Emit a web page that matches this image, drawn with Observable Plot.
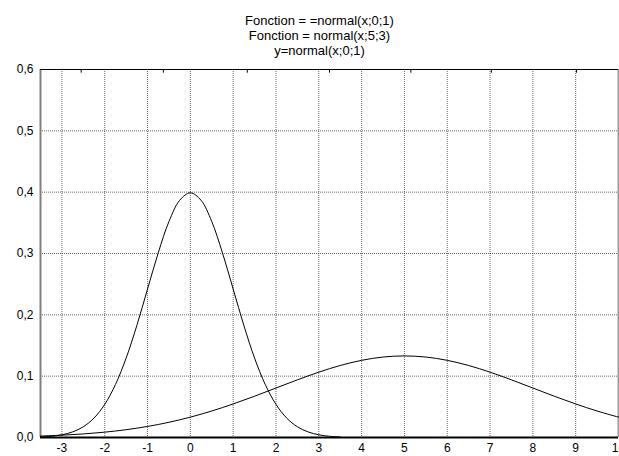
<!DOCTYPE html>
<html><head><meta charset="utf-8">
<script src="https://cdn.jsdelivr.net/npm/d3@7"></script>
<script src="https://cdn.jsdelivr.net/npm/@observablehq/plot@0.6"></script>
<style>
html,body{margin:0;padding:0;background:#fff;color:#000;overflow:hidden;}
body{font-family:"Liberation Sans",Arial,sans-serif;}
#titles{box-sizing:border-box;width:619px;padding-left:20px;padding-top:13px;text-align:center;font-size:13px;line-height:15px;height:58px;}
#chart svg{display:block;}
</style></head>
<body>
<div id="titles"></div>
<div id="chart"></div>
<script>
const titleLines = ["Fonction = =normal(x;0;1)", "Fonction = normal(x;5;3)", "y=normal(x;0;1)"];
const xTicks = [-3,-2,-1,0,1,2,3,4,5,6,7,8,9,10];
const xTickLabels = ["-3","-2","-1","0","1","2","3","4","5","6","7","8","9","10"];
const yTicks = [0,0.1,0.2,0.3,0.4,0.5,0.6];
const yTickLabels = ["0,0","0,1","0,2","0,3","0,4","0,5","0,6"];
const topMarks = [-2.55,-0.63,1.33,3.25,5.15,7.03,9.02];

// curve 1: y = normal(x;0;1)
const c1x = [-3.5,-3.25,-3,-2.75,-2.5,-2.25,-2,-1.75,-1.5,-1.25,-1,-0.75,-0.5,-0.25,0,0.25,0.5,0.75,1,1.25,1.5,1.75,2,2.25,2.5,2.75,3,3.25,3.5];
const c1y = [0.0009,0.0020,0.0044,0.0091,0.0175,0.0317,0.0540,0.0863,0.1295,0.1826,0.2420,0.3011,0.3521,0.3867,0.3989,0.3867,0.3521,0.3011,0.2420,0.1826,0.1295,0.0863,0.0540,0.0317,0.0175,0.0091,0.0044,0.0020,0.0009];
// curve 2: y = normal(x;5;3)
const c2x = [-3.5,-3,-2.5,-2,-1.5,-1,-0.5,0,0.5,1,1.5,2,2.5,3,3.5,4,4.5,5,5.5,6,6.5,7,7.5,8,8.5,9,9.5,10];
const c2y = [0.0024,0.0038,0.0058,0.0087,0.0127,0.0180,0.0248,0.0332,0.0432,0.0547,0.0673,0.0807,0.0940,0.1065,0.1174,0.1258,0.1312,0.1330,0.1312,0.1258,0.1174,0.1065,0.0940,0.0807,0.0673,0.0547,0.0432,0.0332];

document.getElementById("titles").innerHTML = titleLines.map(t => `<div>${t}</div>`).join("");

const s1 = c1x.map((x, i) => ({x, y: c1y[i]}));
const s2 = c2x.map((x, i) => ({x, y: c2y[i]}));
const gridX = xTicks.filter(v => v < 10);
const gridY = yTicks.filter(v => v > 0 && v < 0.6);

const chart = Plot.plot({
  width: 619,
  height: 410,
  marginLeft: 40,
  marginRight: 1,
  marginTop: 11,
  marginBottom: 31,
  style: {fontFamily: "Liberation Sans, Arial, sans-serif", fontSize: "12px", background: "#fff", color: "#000"},
  x: {domain: [-3.5, 10], ticks: xTicks, tickFormat: d => xTickLabels[xTicks.indexOf(d)], tickSize: 0, tickPadding: 6, label: null},
  y: {domain: [0, 0.6], ticks: yTicks, tickFormat: d => yTickLabels[yTicks.findIndex(v => Math.abs(v - d) < 1e-9)], tickSize: 0, tickPadding: 7, label: null},
  marks: [
    Plot.ruleX(gridX, {stroke: "#000", strokeOpacity: 0.6, strokeDasharray: "1,1"}),
    Plot.ruleY(gridY, {stroke: "#000", strokeOpacity: 0.6, strokeDasharray: "1,1"}),
    Plot.ruleX(topMarks, {y1: 0.6, y2: 0.594, stroke: "#000", strokeWidth: 1}),
    Plot.ruleX([-3.5], {stroke: "#808080", strokeWidth: 2}),
    Plot.ruleX([10], {stroke: "#999", strokeWidth: 2}),
    Plot.ruleY([0.6], {stroke: "#000", strokeWidth: 1.2}),
    Plot.line(s1, {x: "x", y: "y", curve: "catmull-rom", stroke: "#000", strokeWidth: 1}),
    Plot.line(s2, {x: "x", y: "y", curve: "catmull-rom", stroke: "#000", strokeWidth: 1}),
    Plot.ruleY([0], {stroke: "#000", strokeWidth: 2})
  ]
});
document.getElementById("chart").appendChild(chart);
</script>
</body></html>
